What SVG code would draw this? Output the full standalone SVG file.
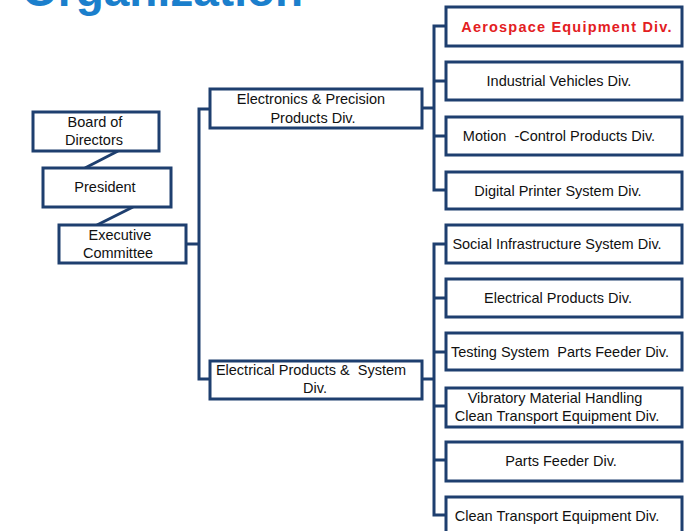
<svg xmlns="http://www.w3.org/2000/svg" width="696" height="531" viewBox="0 0 696 531">
<style>
.box{fill:#fff;stroke:#1e3f6f;stroke-width:3}
.ln{fill:none;stroke:#1e3f6f;stroke-width:3}
text{font-family:"Liberation Sans",Arial,sans-serif;font-size:14.5px;fill:#111;text-anchor:middle}
.red{fill:#e3201f;font-weight:bold;letter-spacing:1.2px}
.title{font-size:46px;font-weight:bold;fill:#1b7fcc;text-anchor:start}
</style>
<rect width="696" height="531" fill="#fff"/>
<text class="title" x="22" y="6">Organization</text>
<g id="connectors">
<line class="ln" x1="118" y1="151" x2="85" y2="168"/>
<line class="ln" x1="133" y1="207" x2="97" y2="225"/>
<polyline class="ln" points="186,244 199,244"/>
<polyline class="ln" points="210,109 199,109 199,379 210,379"/>
<polyline class="ln" points="422,108 434,108"/>
<polyline class="ln" points="446,26 434,26 434,190 446,190"/>
<line class="ln" x1="434" y1="81" x2="446" y2="81"/>
<line class="ln" x1="434" y1="136" x2="446" y2="136"/>
<polyline class="ln" points="422,379 434,379"/>
<polyline class="ln" points="446,244 434,244 434,515 446,515"/>
<line class="ln" x1="434" y1="298" x2="446" y2="298"/>
<line class="ln" x1="434" y1="352" x2="446" y2="352"/>
<line class="ln" x1="434" y1="406" x2="446" y2="406"/>
<line class="ln" x1="434" y1="460" x2="446" y2="460"/>
</g>
<g id="board"><rect class="box" x="33" y="112" width="126" height="39"/><text x="95" y="127">Board of</text><text x="94" y="145">Directors</text></g>
<g id="president"><rect class="box" x="43" y="168" width="128" height="39"/><text x="105" y="192">President</text></g>
<g id="exec"><rect class="box" x="59" y="225" width="127" height="38"/><text x="120" y="240">Executive</text><text x="118" y="258">Committee</text></g>
<g id="epp"><rect class="box" x="210" y="89" width="212" height="39"/><text x="311" y="104">Electronics &amp; Precision</text><text x="313" y="123">Products Div.</text></g>
<g id="eps"><rect class="box" x="210" y="361" width="212" height="38"/><text x="311" y="375" xml:space="preserve">Electrical Products &amp;  System</text><text x="315" y="393">Div.</text></g>
<g id="aero"><rect class="box" x="446" y="7" width="236" height="39"/><text class="red" x="567" y="32">Aerospace Equipment Div.</text></g>
<g id="indv"><rect class="box" x="446" y="62" width="236" height="38"/><text x="559" y="86">Industrial Vehicles Div.</text></g>
<g id="motion"><rect class="box" x="446" y="117" width="236" height="38"/><text x="559" y="141" xml:space="preserve">Motion  -Control Products Div.</text></g>
<g id="digital"><rect class="box" x="446" y="172" width="236" height="37"/><text x="558" y="196">Digital Printer System Div.</text></g>
<g id="social"><rect class="box" x="446" y="225" width="236" height="38"/><text x="557" y="249">Social Infrastructure System Div.</text></g>
<g id="elec"><rect class="box" x="446" y="279" width="236" height="38"/><text x="558" y="303">Electrical Products Div.</text></g>
<g id="testing"><rect class="box" x="446" y="333" width="236" height="37"/><text x="560" y="357" xml:space="preserve">Testing System  Parts Feeder Div.</text></g>
<g id="vibratory"><rect class="box" x="446" y="388" width="236" height="39"/><text x="555" y="403">Vibratory Material Handling</text><text x="557" y="421">Clean Transport Equipment Div.</text></g>
<g id="parts"><rect class="box" x="446" y="442" width="236" height="39"/><text x="561" y="466">Parts Feeder Div.</text></g>
<g id="clean"><rect class="box" x="446" y="497" width="236" height="45"/><text x="557" y="521">Clean Transport Equipment Div.</text></g>
</svg>
